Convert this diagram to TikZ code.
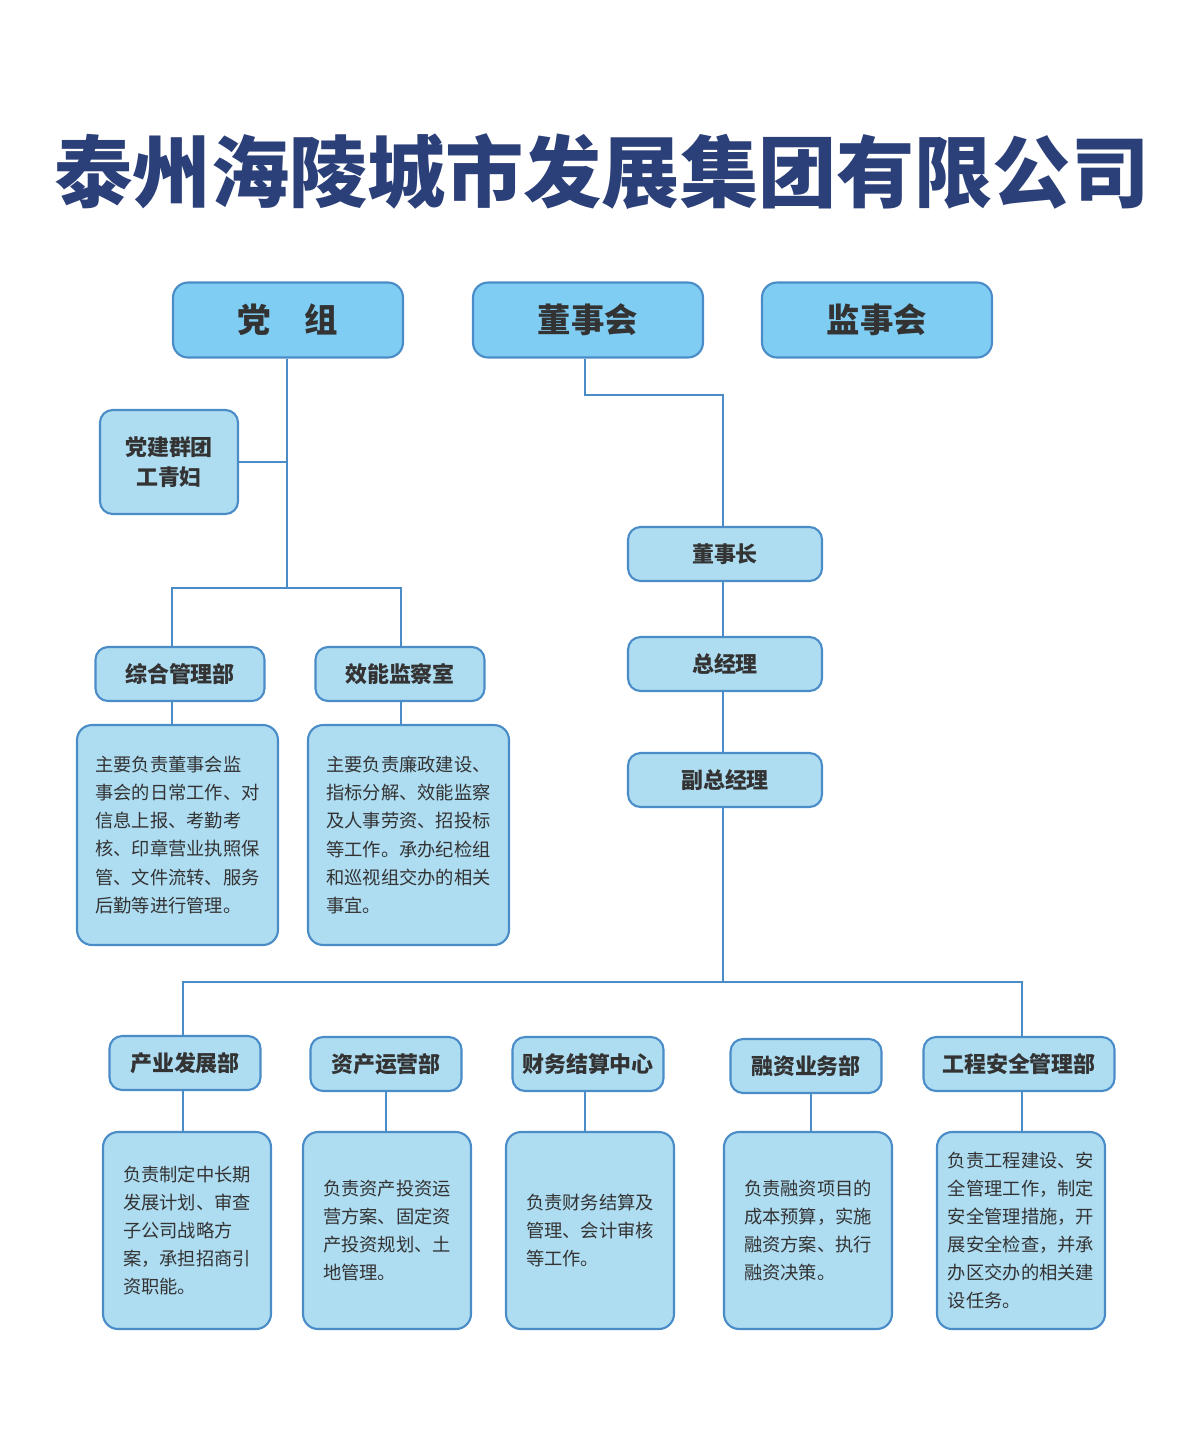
\documentclass[tikz,border=0pt]{standalone}
\usepackage{fontspec}
\setmainfont{Noto Sans CJK SC}
\newfontfamily\cjkbold{Noto Sans CJK SC Black}
\usetikzlibrary{positioning}
\definecolor{linecol}{HTML}{4A8CC8}
\definecolor{topfill}{HTML}{7FCDF3}
\definecolor{boxfill}{HTML}{AEDCF1}
\definecolor{titlecol}{HTML}{2B3F78}
\definecolor{txtcol}{HTML}{333333}
\tikzset{
  topbox/.style={draw=linecol, line width=1.2pt, fill=topfill, rounded corners=0.3cm,
    minimum width=4.6cm, minimum height=1.5cm, font=\fontsize{19}{22}\selectfont\bfseries, text=txtcol},
  midbox/.style={draw=linecol, line width=1.2pt, fill=boxfill, rounded corners=0.25cm,
    minimum height=1.08cm, font=\fontsize{12.5}{15}\selectfont\bfseries, text=txtcol},
  descbox/.style={draw=linecol, line width=1.2pt, fill=boxfill, rounded corners=0.3cm,
    align=left, font=\fontsize{10.4}{16}\selectfont, text=txtcol, inner sep=0pt},
  link/.style={draw=linecol, line width=1.4pt}
}
\begin{document}
\begin{tikzpicture}[x=0.02cm,y=-0.02cm]
  \useasboundingbox (0,0) rectangle (1200,1444);

  % title
  \node (title) at (602,172) {\cjkbold\fontsize{44.5}{48}\selectfont\color{titlecol}泰州海陵城市发展集团有限公司};

  % top row
  \node[topbox] (dangzu) at (288,320) {党\quad 组};
  \node[topbox] (dongshihui) at (588,320) {董事会};
  \node[topbox] (jianshihui) at (877,320) {监事会};

  % party side
  \node[midbox, minimum width=2.76cm, minimum height=2.08cm, align=center,
        font=\fontsize{12.5}{17}\selectfont\bfseries] (qunt) at (169,462) {党建群团\\工青妇};
  \node[midbox, minimum width=3.38cm] (zonghe) at (180,674) {综合管理部};
  \node[midbox, minimum width=3.38cm] (xiaoneng) at (400,674) {效能监察室};
  \node[descbox, minimum width=4.02cm, minimum height=4.4cm] (zongheD) at (177.5,835)
    {主要负责董事会监\\事会的日常工作、对\\信息上报、考勤考\\核、印章营业执照保\\管、文件流转、服务\\后勤等进行管理。};
  \node[descbox, minimum width=4.02cm, minimum height=4.4cm] (xiaonengD) at (408.5,835)
    {主要负责廉政建设、\\指标分解、效能监察\\及人事劳资、招投标\\等工作。承办纪检组\\和巡视组交办的相关\\事宜。};

  % management chain
  \node[midbox, minimum width=3.88cm] (dsz) at (725,554) {董事长};
  \node[midbox, minimum width=3.88cm] (zjl) at (725,664) {总经理};
  \node[midbox, minimum width=3.88cm] (fzjl) at (725,780) {副总经理};

  % departments
  \node[midbox, minimum width=3.02cm] (chanye) at (185,1063) {产业发展部};
  \node[midbox, minimum width=3.02cm] (zichan) at (386,1064) {资产运营部};
  \node[midbox, minimum width=3.02cm] (caiwu) at (588,1064) {财务结算中心};
  \node[midbox, minimum width=3.02cm] (rongzi) at (806,1066) {融资业务部};
  \node[midbox, minimum width=3.82cm] (gongcheng) at (1019,1064) {工程安全管理部};

  \node[descbox, minimum width=3.36cm, minimum height=3.94cm] (chanyeD) at (187,1230.5)
    {负责制定中长期\\发展计划、审查\\子公司战略方\\案，承担招商引\\资职能。};
  \node[descbox, minimum width=3.36cm, minimum height=3.94cm] (zichanD) at (387,1230.5)
    {负责资产投资运\\营方案、固定资\\产投资规划、土\\地管理。};
  \node[descbox, minimum width=3.36cm, minimum height=3.94cm] (caiwuD) at (590,1230.5)
    {负责财务结算及\\管理、会计审核\\等工作。};
  \node[descbox, minimum width=3.36cm, minimum height=3.94cm] (rongziD) at (808,1230.5)
    {负责融资项目的\\成本预算，实施\\融资方案、执行\\融资决策。};
  \node[descbox, minimum width=3.36cm, minimum height=3.94cm] (gongchengD) at (1021,1230.5)
    {负责工程建设、安\\全管理工作，制定\\安全管理措施，开\\展安全检查，并承\\办区交办的相关建\\设任务。};

  % connectors
  \coordinate (jdang) at (287,588);
  \coordinate (jdong) at (723,395);
  \coordinate (jdept) at (723,982);
  \draw[link] (dangzu.south -| jdang) -- (jdang);
  \draw[link] (qunt.east) -- (qunt.east -| jdang);
  \draw[link] (zonghe.north -| 172,0) |- (jdang) -| (xiaoneng.north -| 401,0);
  \draw[link] (zonghe.south -| 172,0) -- (zongheD.north -| 172,0);
  \draw[link] (xiaoneng.south -| 401,0) -- (xiaonengD.north -| 401,0);
  \draw[link] (dongshihui.south -| 585,0) |- (jdong) -- (dsz.north -| jdong);
  \draw[link] (dsz.south -| jdong) -- (zjl.north -| jdong);
  \draw[link] (zjl.south -| jdong) -- (fzjl.north -| jdong);
  \draw[link] (fzjl.south -| jdong) -- (jdept);
  \draw[link] (chanye.north -| 183,0) |- (jdept) -| (gongcheng.north -| 1022,0);
  \foreach \d/\x in {zichan/386, caiwu/585, rongzi/811} {
    \draw[link] (\d.north -| \x,0) -- (\d.north -| \x,0 |- jdept);
  }
  \foreach \d/\x in {chanye/183, zichan/386, caiwu/585, rongzi/811, gongcheng/1022} {
    \draw[link] (\d.south -| \x,0) -- (\d D.north -| \x,0);
  }
\end{tikzpicture}
\end{document}
